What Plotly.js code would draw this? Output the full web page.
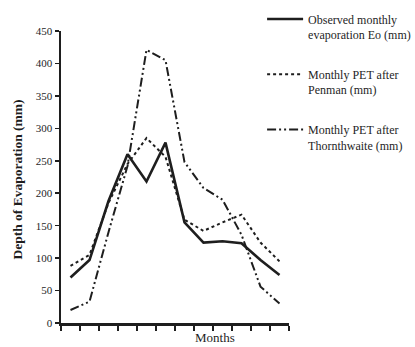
<!DOCTYPE html>
<html><head><meta charset="utf-8">
<script src="https://cdn.plot.ly/plotly-3.0.1.min.js"></script>
<style>html,body{margin:0;padding:0;background:#fff;}#chart{width:415px;height:347px;}</style>
</head><body><div id="chart"></div>
<script>
var months = [1,2,3,4,5,6,7,8,9,10,11,12];
var monthBounds = [0.5,1.5,2.5,3.5,4.5,5.5,6.5,7.5,8.5,9.5,10.5,11.5,12.5];
var observedEo = [70, 97, 188, 260, 218, 278, 155, 124, 126, 123, 97, 74];
var penmanPET = [88, 105, 185, 245, 285, 256, 159, 142, 155, 167, 124, 95];
var thornthwaitePET = [20, 33, 140, 242, 421, 405, 248, 208, 190, 136, 56, 30];
var yTicks = [0,50,100,150,200,250,300,350,400,450];
var seriesNames = ['Observed monthly<br>evaporation Eo (mm)', 'Monthly PET after<br>Penman (mm)', 'Monthly PET after<br>Thornthwaite (mm)'];

var ink = '#1e1e1e';
var traces = [
  {x: months, y: observedEo, name: seriesNames[0], mode: 'lines', line: {color: ink, width: 2.6}, legendgroup: 'a'},
  {x: months, y: penmanPET, name: seriesNames[1], mode: 'lines', line: {color: ink, width: 2, dash: 'dot'}, legendgroup: 'b'},
  {x: months, y: thornthwaitePET, name: seriesNames[2], mode: 'lines', line: {color: ink, width: 2, dash: '9px,3px,2px,3px,2px,3px'}, legendgroup: 'c'}
];
var layout = {
  width: 415, height: 347,
  margin: {l: 61, r: 126, t: 31, b: 24, autoexpand: false},
  paper_bgcolor: '#fff', plot_bgcolor: '#fff',
  font: {family: 'Liberation Serif, serif', color: ink, size: 11},
  showlegend: true,
  legend: {x: 0.882, y: 1.09, xanchor: 'left', yanchor: 'top', valign: 'top',
           font: {family: 'Liberation Serif, serif', size: 12, color: ink},
           tracegroupgap: 21, bgcolor: 'rgba(0,0,0,0)', itemwidth: 36},
  xaxis: {range: [0.5, 12.5], tickmode: 'array', tickvals: monthBounds, ticktext: monthBounds.map(function(){return '';}),
          ticks: 'outside', ticklen: 5, tickwidth: 1.5, tickcolor: ink, showgrid: false, zeroline: false,
          showline: true, linecolor: ink, linewidth: 3},
  yaxis: {range: [0, 450], tickmode: 'array', tickvals: yTicks, ticks: 'outside', ticklen: 4, tickwidth: 1.5,
          tickcolor: ink, showgrid: false, zeroline: false, showline: true, linecolor: ink, linewidth: 2.5,
          tickfont: {family: 'Liberation Serif, serif', size: 11, color: ink}},
  annotations: [
    {text: 'Depth of Evaporation (mm)', xref: 'paper', yref: 'paper', x: -0.19, y: 0.49, xanchor: 'center', yanchor: 'middle', textangle: -90,
     showarrow: false, font: {family: 'Liberation Serif, serif', size: 13.5, color: ink, weight: 'bold'}},
    {text: 'Months', xref: 'paper', yref: 'paper', x: 0.675, y: -0.048, xanchor: 'center', yanchor: 'middle',
     showarrow: false, font: {family: 'Liberation Serif, serif', size: 13, color: ink}}
  ]
};
Plotly.newPlot('chart', traces, layout, {displayModeBar: false, staticPlot: true});
</script></body></html>
